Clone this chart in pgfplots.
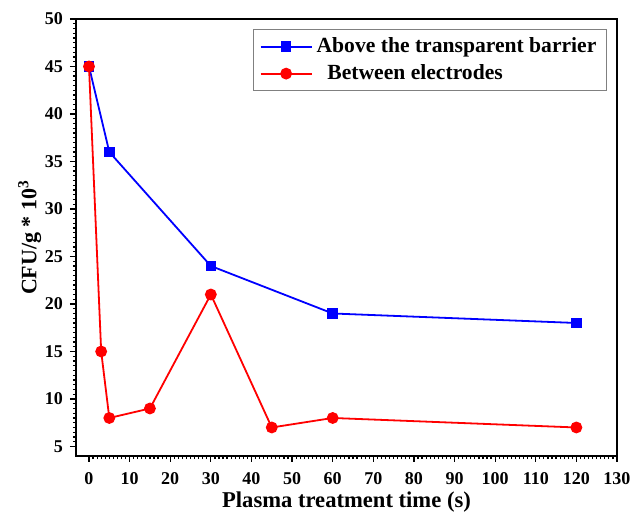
\documentclass[border=0pt]{standalone}
\usepackage{pgfplots}
\pgfplotsset{compat=1.18}
\usepackage{fontspec}
\setmainfont{Liberation Serif}
\begin{document}
\begin{tikzpicture}
\begin{axis}[
  name=ax,
  scale only axis,
  width=270.5pt, height=218.5pt,
  xmin=-3.2, xmax=130, ymin=4, ymax=50,
  xtick={0,10,...,130}, ytick={5,10,...,50},
  minor x tick num=9, minor y tick num=9,
  tick align=outside, xtick pos=bottom, ytick pos=left,
  major tick length=3pt, minor tick length=1.6pt,
  tick style={black, line width=0.6pt},
  axis line style={line width=0.9pt},
  /pgf/number format/assume math mode=true,
  ticklabel style={font=\fontsize{9}{11}\selectfont\bfseries},
  xticklabel style={yshift=-1.5pt},
  xlabel={Plasma treatment time (s)},
  ylabel={CFU/g * 10$^{\mathbf{3}}$},
  xlabel style={font=\fontsize{11.3}{13}\selectfont\bfseries, yshift=3pt},
  ylabel style={font=\fontsize{11}{13}\selectfont\bfseries, yshift=-5pt},
  legend style={at={(0.9815,0.977)}, anchor=north east, draw=gray, line width=0.6pt,
    font=\fontsize{10.8}{13}\selectfont\bfseries, row sep=0.5pt, inner sep=2pt, inner xsep=3pt},
  legend cell align=left,
  legend image code/.code={\draw[mark repeat=2,mark phase=2] plot coordinates {(0cm,0cm) (0.45cm,0cm) (0.9cm,0cm)};},
]
\addplot[blue, line width=0.9pt, mark=square*, mark size=2.2pt] coordinates {
  (0,45) (5,36) (30,24) (60,19) (120,18)};
\addlegendentry{Above the transparent barrier}
\addplot[red, line width=0.9pt, mark=*, mark size=2.5pt] coordinates {
  (0,45) (3,15) (5,8) (15,9) (30,21) (45,7) (60,8) (120,7)};
\addlegendentry{\ \ Between electrodes}
\end{axis}
\pgfresetboundingbox
\path[use as bounding box] ([shift={(-38pt,-29.5pt)}]ax.south west) rectangle ([shift={(11pt,9.5pt)}]ax.north east);
\end{tikzpicture}
\end{document}
